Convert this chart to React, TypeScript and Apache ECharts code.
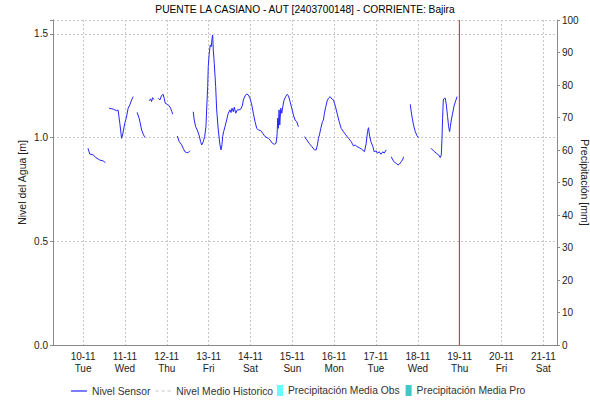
import React, { useEffect, useRef } from 'react';
import * as echarts from 'echarts';

const titleText = 'PUENTE LA CASIANO - AUT [2403700148] - CORRIENTE: Bajira';
const dayLabels = ['10-11', '11-11', '12-11', '13-11', '14-11', '15-11', '16-11', '17-11', '18-11', '19-11', '20-11', '21-11'];
const weekdayLabels = ['Tue', 'Wed', 'Thu', 'Fri', 'Sat', 'Sun', 'Mon', 'Tue', 'Wed', 'Thu', 'Fri', 'Sat'];
const firstDay = '2020-11-10T00:00';
const xMin = '2020-11-09T06:45';
const xMax = '2020-11-21T07:50';
const nowMarker = '2020-11-18T23:50';
const levelMax = 1.5675;
const levelInterval = 0.5;
const precipMax = 100;
const precipInterval = 10;

type Pt = [string, number | null];

const seg1: Pt[] = [
  ['2020-11-10T02:50', 0.949], ['2020-11-10T03:50', 0.921], ['2020-11-10T05:45', 0.917], ['2020-11-10T07:20', 0.904],
  ['2020-11-10T09:35', 0.892], ['2020-11-10T11:30', 0.888], ['2020-11-10T12:50', 0.879],
];
const seg2: Pt[] = [
  ['2020-11-10T14:55', 1.142], ['2020-11-10T17:15', 1.138], ['2020-11-10T19:10', 1.130], ['2020-11-10T20:05', 1.133],
  ['2020-11-10T21:05', 1.069], ['2020-11-10T22:05', 0.997], ['2020-11-10T22:40', 1.013], ['2020-11-10T23:55', 1.069],
  ['2020-11-11T00:55', 1.100], ['2020-11-11T01:50', 1.142], ['2020-11-11T02:50', 1.158], ['2020-11-11T03:50', 1.182],
  ['2020-11-11T04:45', 1.198],
];
const seg3: Pt[] = [
  ['2020-11-11T07:00', 1.122], ['2020-11-11T08:10', 1.094], ['2020-11-11T09:00', 1.061], ['2020-11-11T09:35', 1.037],
  ['2020-11-11T10:30', 1.017], ['2020-11-11T11:25', 1.001],
];
const seg4: Pt[] = [
  ['2020-11-11T13:55', 1.178], ['2020-11-11T14:43', 1.187], ['2020-11-11T15:17', 1.174], ['2020-11-11T15:52', 1.193],
  ['2020-11-11T16:37', 1.184],
];
const seg5: Pt[] = [
  ['2020-11-11T19:05', 1.190], ['2020-11-11T20:05', 1.182], ['2020-11-11T21:00', 1.203], ['2020-11-11T21:57', 1.209],
  ['2020-11-11T22:32', 1.190], ['2020-11-11T23:07', 1.166], ['2020-11-12T00:16', 1.161], ['2020-11-12T01:24', 1.154],
  ['2020-11-12T02:12', 1.142], ['2020-11-12T02:57', 1.125], ['2020-11-12T03:22', 1.113],
];
const seg6: Pt[] = [
  ['2020-11-12T06:00', 1.008], ['2020-11-12T07:09', 0.981], ['2020-11-12T08:31', 0.965], ['2020-11-12T09:26', 0.949],
  ['2020-11-12T10:25', 0.932], ['2020-11-12T11:24', 0.928], ['2020-11-12T12:19', 0.928], ['2020-11-12T13:18', 0.937],
];
const seg7: Pt[] = [
  ['2020-11-12T15:11', 1.125], ['2020-11-12T15:46', 1.085], ['2020-11-12T16:34', 1.053], ['2020-11-12T17:30', 1.037],
  ['2020-11-12T18:28', 1.013], ['2020-11-12T19:26', 0.981], ['2020-11-12T20:01', 0.965], ['2020-11-12T20:56', 0.981],
  ['2020-11-12T21:44', 1.005], ['2020-11-12T22:29', 1.053], ['2020-11-12T22:53', 1.134], ['2020-11-12T23:28', 1.246],
  ['2020-11-12T23:48', 1.343], ['2020-11-13T00:22', 1.407], ['2020-11-13T00:57', 1.447], ['2020-11-13T01:32', 1.439],
  ['2020-11-13T02:06', 1.487], ['2020-11-13T02:20', 1.495], ['2020-11-13T02:41', 1.423], ['2020-11-13T03:15', 1.359],
  ['2020-11-13T04:03', 1.246], ['2020-11-13T04:38', 1.134], ['2020-11-13T05:33', 1.037], ['2020-11-13T06:31', 0.965],
  ['2020-11-13T07:06', 0.941], ['2020-11-13T07:40', 0.965], ['2020-11-13T08:04', 1.005], ['2020-11-13T08:38', 1.029],
  ['2020-11-13T09:24', 1.053], ['2020-11-13T10:21', 1.085], ['2020-11-13T11:17', 1.118], ['2020-11-13T12:16', 1.134],
  ['2020-11-13T12:50', 1.121], ['2020-11-13T13:25', 1.142], ['2020-11-13T14:10', 1.125], ['2020-11-13T14:44', 1.147],
  ['2020-11-13T15:33', 1.118], ['2020-11-13T16:28', 1.134], ['2020-11-13T17:26', 1.134], ['2020-11-13T18:24', 1.137],
  ['2020-11-13T19:20', 1.153], ['2020-11-13T19:55', 1.182], ['2020-11-13T20:53', 1.201], ['2020-11-13T21:52', 1.211],
  ['2020-11-13T22:47', 1.206], ['2020-11-13T23:46', 1.190], ['2020-11-14T00:44', 1.158], ['2020-11-14T01:39', 1.118],
  ['2020-11-14T02:38', 1.077], ['2020-11-14T03:36', 1.045], ['2020-11-14T04:32', 1.037], ['2020-11-14T05:54', 1.034],
  ['2020-11-14T07:03', 1.021], ['2020-11-14T08:22', 1.005], ['2020-11-14T10:16', 0.997], ['2020-11-14T11:15', 0.989],
  ['2020-11-14T12:34', 0.973], ['2020-11-14T13:43', 0.968], ['2020-11-14T14:41', 0.973], ['2020-11-14T15:16', 1.013],
  ['2020-11-14T15:40', 1.094], ['2020-11-14T16:00', 1.045], ['2020-11-14T16:25', 1.134], ['2020-11-14T16:49', 1.061],
  ['2020-11-14T17:24', 1.142], ['2020-11-14T17:58', 1.118], ['2020-11-14T18:33', 1.150], ['2020-11-14T19:18', 1.182],
  ['2020-11-14T20:16', 1.198], ['2020-11-14T21:01', 1.209], ['2020-11-14T21:46', 1.203], ['2020-11-14T22:44', 1.174],
  ['2020-11-14T23:42', 1.142], ['2020-11-15T00:37', 1.110], ['2020-11-15T01:36', 1.085], ['2020-11-15T02:35', 1.077],
  ['2020-11-15T03:30', 1.053],
];
const seg8: Pt[] = [
  ['2020-11-15T06:58', 1.005], ['2020-11-15T08:20', 0.989], ['2020-11-15T09:39', 0.973], ['2020-11-15T11:13', 0.957],
  ['2020-11-15T12:42', 0.941], ['2020-11-15T13:41', 0.941], ['2020-11-15T14:25', 0.965], ['2020-11-15T15:00', 0.997],
  ['2020-11-15T15:34', 1.013], ['2020-11-15T16:22', 1.045], ['2020-11-15T17:17', 1.077], ['2020-11-15T17:51', 1.085],
  ['2020-11-15T18:26', 1.118], ['2020-11-15T19:14', 1.150], ['2020-11-15T19:59', 1.177], ['2020-11-15T20:44', 1.190],
  ['2020-11-15T21:43', 1.198], ['2020-11-15T22:41', 1.187], ['2020-11-15T23:37', 1.182], ['2020-11-16T00:12', 1.166],
  ['2020-11-16T01:00', 1.142], ['2020-11-16T01:55', 1.110], ['2020-11-16T02:54', 1.077], ['2020-11-16T04:03', 1.045],
  ['2020-11-16T05:21', 1.029], ['2020-11-16T06:44', 1.013], ['2020-11-16T08:13', 0.997], ['2020-11-16T09:46', 0.981],
  ['2020-11-16T11:05', 0.960], ['2020-11-16T12:04', 0.965], ['2020-11-16T13:03', 0.957], ['2020-11-16T14:22', 0.952],
  ['2020-11-16T15:55', 0.944], ['2020-11-16T17:25', 0.932], ['2020-11-16T18:24', 0.973], ['2020-11-16T19:09', 1.029],
  ['2020-11-16T19:42', 1.048], ['2020-11-16T20:17', 1.013], ['2020-11-16T21:05', 0.981], ['2020-11-16T22:13', 0.957],
  ['2020-11-16T22:59', 0.932], ['2020-11-17T00:07', 0.936], ['2020-11-17T00:53', 0.925], ['2020-11-17T01:52', 0.932],
  ['2020-11-17T02:50', 0.920], ['2020-11-17T03:59', 0.932], ['2020-11-17T04:43', 0.925], ['2020-11-17T05:52', 0.941],
];
const seg9: Pt[] = [
  ['2020-11-17T08:45', 0.908], ['2020-11-17T09:43', 0.892], ['2020-11-17T10:39', 0.881], ['2020-11-17T11:37', 0.877],
  ['2020-11-17T12:36', 0.868], ['2020-11-17T13:31', 0.873], ['2020-11-17T14:30', 0.884], ['2020-11-17T15:28', 0.897],
  ['2020-11-17T15:49', 0.908],
];
const seg10: Pt[] = [
  ['2020-11-17T19:40', 1.161], ['2020-11-17T20:14', 1.125], ['2020-11-17T20:49', 1.094], ['2020-11-17T21:33', 1.061],
  ['2020-11-17T22:32', 1.029], ['2020-11-17T23:30', 1.010], ['2020-11-18T00:26', 1.000],
];
const seg11: Pt[] = [
  ['2020-11-18T07:33', 0.949], ['2020-11-18T09:03', 0.936], ['2020-11-18T10:36', 0.925], ['2020-11-18T11:55', 0.917],
  ['2020-11-18T12:53', 0.904], ['2020-11-18T13:28', 0.917], ['2020-11-18T13:52', 0.997], ['2020-11-18T14:13', 1.094],
  ['2020-11-18T14:37', 1.182], ['2020-11-18T15:12', 1.190], ['2020-11-18T15:46', 1.190], ['2020-11-18T16:21', 1.158],
  ['2020-11-18T17:05', 1.101], ['2020-11-18T17:40', 1.053], ['2020-11-18T18:14', 1.029], ['2020-11-18T18:39', 1.053],
  ['2020-11-18T19:13', 1.085], ['2020-11-18T19:58', 1.118], ['2020-11-18T20:56', 1.158], ['2020-11-18T21:55', 1.182],
  ['2020-11-18T22:29', 1.198],
];
const sensorSegments: Pt[][] = [seg1, seg2, seg3, seg4, seg5, seg6, seg7, seg8, seg9, seg10, seg11];
const nivelMedioHistorico: Pt[] = [];
const precipitacionMediaObs: Pt[] = [];
const precipitacionMediaPro: Pt[] = [];

const ts = (s: string) => new Date(s).getTime();
const DAY = 86400000;
const FONT = '"Liberation Sans", Arial, sans-serif';

export default function App() {
  const ref = useRef<HTMLDivElement>(null);
  useEffect(() => {
    if (!ref.current) return;
    const chart = echarts.init(ref.current, null, { renderer: 'svg' });
    const sensorData: any[] = [];
    sensorSegments.forEach((seg, i) => {
      if (i > 0) sensorData.push([ts(seg[0][0]) - 60000, null]);
      seg.forEach(p => sensorData.push([ts(p[0]), p[1]]));
    });
    const nowLine = [[ts(nowMarker), 0], [ts(nowMarker), levelMax]];
    const base = ts(firstDay);
    const xLabel = (value: number) => {
      const idx = Math.round((value - base) / DAY);
      if (Math.abs(value - (base + idx * DAY)) > 60000) return '';
      if (idx < 0 || idx >= dayLabels.length) return '';
      return dayLabels[idx] + '\n' + weekdayLabels[idx];
    };
    const grid = '#c8c8c8';
    const axisGray = '#8a8a8a';
    const red = '#e41c1c';
    chart.setOption({
      animation: false,
      backgroundColor: '#ffffff',
      title: {
        text: titleText, left: 300, textAlign: 'center', top: 0, padding: [4, 5],
        textStyle: { fontFamily: FONT, fontSize: 10.2, fontWeight: 'normal', color: '#000' },
      },
      grid: { left: 53, right: 33, top: 20, bottom: 59, outerBoundsMode: 'none', containLabel: false },
      legend: [
        {
          left: 71, top: 385, padding: 0, itemWidth: 16, itemHeight: 12, itemGap: 5,
          itemStyle: { borderWidth: 0 },
          textStyle: { fontFamily: FONT, fontSize: 10.3, color: '#333' },
          data: [
            { name: 'Nivel Sensor', icon: 'path://M0,0M16,12M0,5.4h16v1.2h-16z' },
            { name: 'Nivel Medio Historico', icon: 'path://M0,0M16,12M0,5.5h3.5v1h-3.5zM6,5.5h3.5v1h-3.5zM12,5.5h3.5v1h-3.5z' },
          ],
        },
        {
          left: 277, top: 385, padding: 0, itemWidth: 6, itemHeight: 11, itemGap: 6, icon: 'rect',
          itemStyle: { borderWidth: 0 },
          textStyle: { fontFamily: FONT, fontSize: 10.3, color: '#333' },
          data: ['Precipitación Media Obs', 'Precipitación Media Pro'],
        },
      ],
      xAxis: [
        {
          type: 'time', min: ts(xMin), max: ts(xMax), minInterval: DAY, maxInterval: DAY, splitNumber: 12,
          axisLine: { show: true, lineStyle: { color: '#777', type: [1, 1] } },
          axisTick: { show: false },
          axisLabel: {
            formatter: xLabel, showMinLabel: false, showMaxLabel: false, hideOverlap: false,
            fontFamily: FONT, fontSize: 10, color: '#222', lineHeight: 12, margin: 5,
          },
          splitLine: { show: true, lineStyle: { color: grid, type: [2, 2], width: 1 } },
        },
        {
          type: 'time', position: 'top', min: ts(xMin), max: ts(xMax),
          axisLine: { show: true, lineStyle: { color: axisGray } },
          axisTick: { show: false }, axisLabel: { show: false }, splitLine: { show: false },
        },
      ],
      yAxis: [
        {
          type: 'value', min: 0, max: levelMax, interval: levelInterval,
          name: 'Nivel del Agua [m]', nameLocation: 'middle', nameGap: 26, nameMoveOverlap: false,
          nameTextStyle: { fontFamily: FONT, fontSize: 10.5, color: '#222' },
          axisLine: { show: true, lineStyle: { color: axisGray } },
          axisTick: { show: true, length: 3, lineStyle: { color: axisGray } },
          axisLabel: {
            fontFamily: FONT, fontSize: 10, color: '#222', margin: 5,
            formatter: (v: number) => (Math.abs(v / levelInterval - Math.round(v / levelInterval)) < 1e-6 ? v.toFixed(1) : ''),
          },
          splitLine: { show: true, lineStyle: { color: grid, type: [2, 2], width: 1 } },
        },
        {
          type: 'value', min: 0, max: precipMax, interval: precipInterval, position: 'right',
          name: 'Precipitación [mm]', nameLocation: 'middle', nameGap: 22, nameRotate: -90, nameMoveOverlap: false,
          nameTextStyle: { fontFamily: FONT, fontSize: 10.5, color: '#222' },
          axisLine: { show: true, lineStyle: { color: axisGray } },
          axisTick: { show: true, length: 3, lineStyle: { color: axisGray } },
          axisLabel: { fontFamily: FONT, fontSize: 10, color: '#222', margin: 5 },
          splitLine: { show: false },
        },
      ],
      series: [
        {
          name: 'Nivel Sensor', type: 'line', data: sensorData, showSymbol: false, symbol: 'none',
          color: '#2525ff', lineStyle: { color: '#2525ff', width: 1 }, connectNulls: false, z: 3,
        },
        {
          name: 'Hoy', type: 'line', data: nowLine, showSymbol: false, symbol: 'none', silent: true,
          color: red, lineStyle: { color: red, width: 1, type: 'solid' }, z: 4,
        },
        {
          name: 'Nivel Medio Historico', type: 'line', data: nivelMedioHistorico, showSymbol: false,
          color: '#c8c8c8', lineStyle: { color: '#c8c8c8', type: 'dashed', width: 1 },
        },
        { name: 'Precipitación Media Obs', type: 'bar', xAxisIndex: 1, yAxisIndex: 1, data: precipitacionMediaObs, color: '#66ffff' },
        { name: 'Precipitación Media Pro', type: 'bar', xAxisIndex: 1, yAxisIndex: 1, data: precipitacionMediaPro, color: '#40c8c8' },
      ],
    });
    return () => chart.dispose();
  }, []);
  return <div ref={ref} style={{ position: 'absolute', left: 0, top: 0, width: 590, height: 404 }} />;
}
